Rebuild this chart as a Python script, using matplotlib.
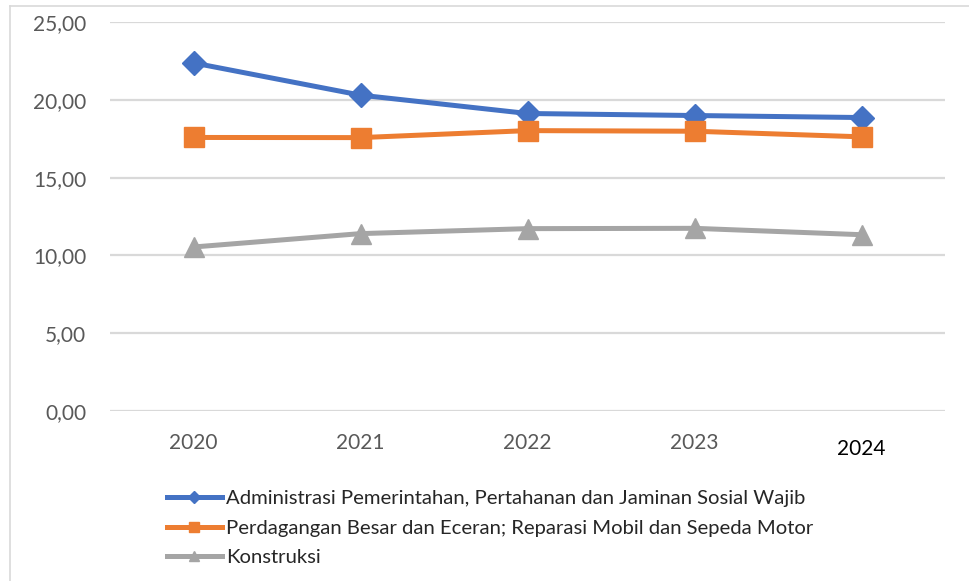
import matplotlib
matplotlib.use("Agg")
import matplotlib.pyplot as plt
from matplotlib.lines import Line2D

years = ["2020", "2021", "2022", "2023", "2024"]
admin = [22.37, 20.30, 19.12, 18.99, 18.86]
dagang = [17.58, 17.57, 18.02, 17.98, 17.62]
konstruksi = [10.54, 11.40, 11.72, 11.74, 11.33]
labels = ["Administrasi Pemerintahan, Pertahanan dan Jaminan Sosial Wajib",
          "Perdagangan Besar dan Eceran; Reparasi Mobil dan Sepeda Motor",
          "Konstruksi"]
yticks = [0, 5, 10, 15, 20, 25]

plt.rcParams['font.family'] = ['Lato', 'DejaVu Sans']

W, H = 969, 581
fig = plt.figure(figsize=(W/100, H/100), dpi=100)
ax = fig.add_axes([110/W, 1-411/H, (945-110)/W, (411-22)/H])

x = list(range(len(years)))
ax.plot(x, admin, color='#4472C4', lw=3.6, marker='D', ms=12, label=labels[0], zorder=3)
ax.plot(x, dagang, color='#ED7D31', lw=3.6, marker='s', ms=14, label=labels[1], zorder=3)
ax.plot(x, konstruksi, color='#A5A5A5', lw=3.6, marker='^', ms=15, label=labels[2], zorder=3)

ax.set_xlim(-0.5, 4.5)
ax.set_ylim(0, 25)
ax.set_yticks(yticks)
ax.set_yticklabels([f"{v:.2f}".replace('.', ',') for v in yticks])
ax.set_xticks(x)
ax.set_xticklabels(years)
ax.grid(axis='y', color='#D9D9D9', lw=1.6)
ax.set_axisbelow(True)
for s in ax.spines.values():
    s.set_visible(False)
ax.tick_params(axis='both', length=0, labelsize=15, colors='#595959')
ax.tick_params(axis='y', pad=17)
ax.tick_params(axis='x', pad=16)
last = ax.xaxis.get_major_ticks()[-1]
last.label1.set_color('#000000')
last.set_pad(20)

leg = fig.legend(loc='center left', bbox_to_anchor=(167/W, 1-528/H), frameon=False,
                 fontsize=14.6, handlelength=2.7, handletextpad=0.2, labelspacing=0.6,
                 borderpad=0, borderaxespad=0, markerscale=0.5)
for t in leg.get_texts():
    t.set_color('#262626')

# chart area border (left and top visible)
fig.add_artist(Line2D([10/W, 10/W], [0, 1-6/H], color='#D9D9D9', lw=1.2, transform=fig.transFigure))
fig.add_artist(Line2D([10/W, 1], [1-6/H, 1-6/H], color='#D9D9D9', lw=1.2, transform=fig.transFigure))

fig.savefig("out.png", dpi=100)
